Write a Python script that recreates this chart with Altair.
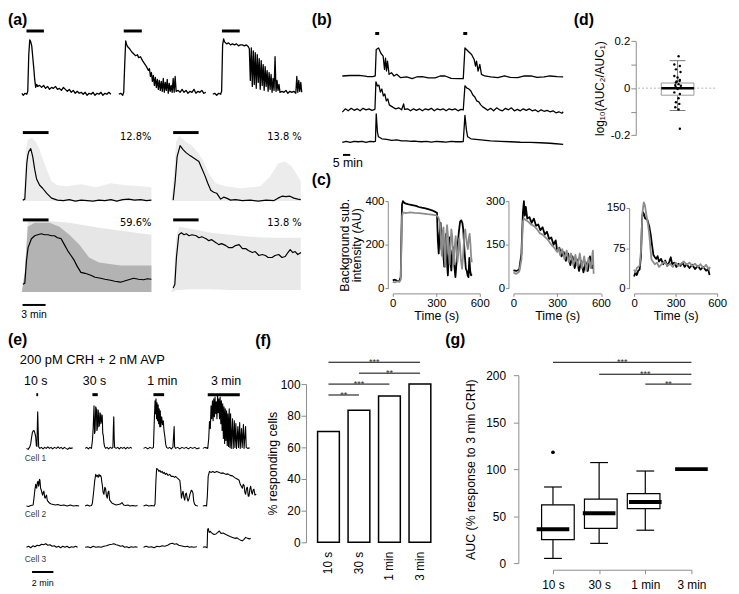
import altair as alt
import pandas as pd

W, H = 731, 586          # whole chart = page 739x594 minus the 8px margin
OFF = 8                  # reference pixel -> chart pixel
FONT = "Liberation Sans"

# ======================= DATA =======================
# (a) three example cells (frame, dF a.u.)
A1 = [(0,1),(1.5,-1),(3,1),(5,0),(6,3),(7,40),(8,55),(9,53),(10,49),(11,38),(12,27),(13,15),(14,7),(15,10),(16,8),(18,9),(20,7),(22,9),(24,6),(26,8),(28,5),(30,7),(32,6),(34,8),(36,5),(38,6),(40,4),(42,7),(44,5),(46,3),(48,5),(50,2),(52,4),(54,1),(56,3),(58,1),(60,2),(62,0),(64,2),(66,-1),(68,1),(70,0),(72,2),(74,-1),(76,1),(78,0),(80,2),(82,-1),(84,1),(86,0),(88,2),(90,0)]
A2 = [(0,0),(2,1),(4,-1),(5,2),(6,30),(7,54),(8,50),(9,48),(11,46),(13,43),(15,41),(17,39),(19,40),(20,37),(22,38),(24,34),(26,31),(28,28),(30,24),(31,26),(32,18),(33,22),(34,13),(35,19),(36,9),(37,17),(38,7),(39,15),(40,5),(41,14),(42,4),(43,13),(44,3),(45,16),(46,2),(47,12),(48,4),(49,15),(50,1),(51,11),(52,3),(53,9),(54,2),(55,16),(56,2),(57,18),(58,3),(60,4),(62,2),(64,5),(66,2),(68,4),(70,1),(72,3),(74,2),(76,5),(78,1),(80,3),(82,2),(84,4),(86,1),(88,2)]
A3 = [(0,0),(2,1),(4,-1),(6,1),(8,0),(9,3),(10,50),(11,56),(12,53),(14,51),(16,52),(18,50),(20,51),(22,50),(24,51),(26,49),(28,50),(30,50),(32,49),(34,50),(36,48),(37,46),(38,14),(39,47),(40,8),(41,44),(42,10),(43,42),(44,6),(45,40),(46,12),(47,36),(48,5),(49,34),(50,9),(51,30),(52,4),(53,28),(54,8),(55,24),(56,3),(57,22),(58,5),(59,20),(60,2),(61,16),(62,4),(63,38),(64,3),(65,14),(66,4),(67,10),(68,2),(70,3),(72,2),(74,4),(76,1),(78,3),(80,2),(82,3),(84,1),(85,18),(86,2),(87,14),(88,3),(89,12),(90,2)]
A_STIM = [(4.7, 22.3), (5.0, 23.3), (9.3, 27.3)]

# (a) clusters: mean trace (frame, dF) and envelope of member traces (frame, lo, hi)
A4_MEAN = [(1,1),(3,2),(4,20),(5,38),(6,46),(7,50),(9,53),(11,45),(13,32),(15,22),(18,16),(21,13),(25,8),(30,3),(36,1),(42,0.5),(48,1.5),(54,0),(60,1),(66,0.5),(72,0),(78,1),(84,0.5),(90,1.5),(96,0),(102,1.5),(108,2),(114,1),(120,1.5),(126,0.5),(131,1)]
A4_ENV = [(0,0,0),(2,0,5),(4,0,50),(6,0,62),(10,0,64),(14,0,60),(18,0,52),(22,0,40),(26,0,30),(30,0,20),(36,0,16),(45,0,15),(60,0,17),(75,0,14),(90,0,18),(105,0,16),(120,0,15),(131,0,14)]
A5_MEAN = [(2,1),(4,20),(6,45),(9,56),(12,52),(15,49),(19,46),(22,44),(25,42),(28,40),(31,33),(34,26),(37,18),(40,11),(43,9),(46,8),(50,2),(53,4),(56,3),(60,1),(65,1.5),(72,0.5),(80,1),(88,0),(96,1),(104,0.5),(108,3),(112,5),(116,4.5),(120,5),(124,3),(128,2),(131,1.5)]
A5_ENV = [(0,0,0),(3,0,30),(5,0,60),(8,0,66),(15,0,60),(22,0,55),(28,0,48),(33,0,40),(38,0,28),(45,0,18),(55,0,15),(70,0,13),(90,0,15),(100,0,25),(108,0,38),(115,0,40),(122,0,35),(131,0,20)]
A6_MEAN = [(1,8),(3,9),(4.7,32),(6.3,45),(9.7,54),(13,57),(16,58),(19.7,59),(23,58),(26.3,58),(30,57),(33,57),(36,55),(39.7,54),(43,48),(46.3,42),(49.7,37),(53,32),(56,26),(59.7,20),(64,19),(69.7,17),(74,15),(79.7,14),(84,13),(89.7,12),(94,11),(99.7,10),(103,11),(106.3,12),(109.7,13),(113,14),(118,13),(123,12.5),(127,13.5),(131,13)]
A6_ENV_LIGHT = [(0,0,0),(3,0,20),(6,0,72),(28,0,72),(48,0,70),(78,0,65),(100,0,62),(131,0,58)]
A6_ENV_DARK = [(0,0,0),(3,0,20),(6,0,66),(13,0,70),(28,0,70),(38,0,66),(48,0,58),(58,0,48),(68,0,35),(78,0,30),(100,0,27),(131,0,27)]
A7_MEAN = [(2,4),(3.7,8),(5.3,35),(7.7,58),(10.3,60),(13,58),(15.3,59),(18,57),(21,58),(25.3,57),(28,55),(31,56),(35.3,54),(38,52),(41,53),(45.3,50),(48,48),(51,49),(55.3,47),(58,45),(62,45),(65,47),(68.7,48),(72,44),(75.3,44),(78,42),(82,40),(85,41),(88.7,37),(92,38),(95.3,37),(98,35),(102,35),(105,37),(108.7,38),(112,35),(115.3,36),(118,40),(120.3,43),(123,40),(125.3,41),(128,38),(131.3,40)]
A7_ENV = [(0,0,0),(2,0,5),(5,2,55),(8,2,66),(20,3,64),(40,3,60),(60,2,58),(80,2,56),(100,2,55),(131,2,55)]
A_PCT = ["12.8%", "13.8 %", "59.6%", "13.8 %"]
A_GRID_STIM = [(1, 27), (2, 27.7)]
A_SCALE = (0.7, 24, "3 min")

# (b) repeated stimulation, three cells (frame, dF)
B1 = [(0,0),(8,0.5),(17,0.7),(25,-0.5),(31,-0.7),(33.3,0),(34.3,26.7),(36.7,28.3),(39,23),(41.3,20),(42.7,6.7),(43.7,18),(44.7,5),(45.7,15),(47.3,1.7),(49.7,3.3),(52.3,0),(55,1.7),(59,-1.7),(65,-1),(70.7,-2.7),(75,-1),(80.7,-0.7),(87,-2),(94,-2),(99,0),(104,0),(110,-2.5),(117.3,-2.7),(122.3,-2.7),(124,28.3),(127.3,25),(130.7,21.7),(133.3,16.7),(134.7,10),(135.7,15),(137.3,5),(139,11.7),(140.7,1.7),(144,0),(150,-1),(157.3,-1.7),(164,0),(170,-1.5),(177.3,-1.7),(184,0),(190.7,0),(197,-1.5),(204,-1),(210,0),(217.3,-0.7),(223.3,-1)]
B2 = [(0,-2.3),(3,1),(6,-1),(9,1.5),(12,-0.5),(15,1),(18,-1),(21,1.5),(24,0),(27,1),(30,-0.5),(33,0.5),(34,28.3),(35.5,24),(37,25),(38.5,18),(40,21),(41.5,14),(43,16),(44.5,9),(46,11),(47.5,5),(49,4),(51,2.7),(54,1),(57,2),(60,0),(62,6),(63,0.5),(66,1),(69,-1),(72,1),(75,-0.5),(78,1),(81,-1),(84,1),(87,0),(90,1.5),(93,-1),(96,1),(99,0),(102,1),(105,-1),(108,1),(111,0),(114,1),(117,-1),(120,0.5),(122.3,0),(124,24.3),(126,22),(128,21),(130,19),(132,15),(134,13),(136,9),(138,8),(140,5),(142,3),(144,1.7),(147,-0.5),(150,1.5),(153,-1),(156,2),(159,0),(162,-1),(165,1.5),(168,0),(171,2),(174,-1),(177,0.5),(180,-1),(183,1),(186,-0.5),(189,1),(192,-1),(195,0),(198,-2),(201,0),(204,-1.5),(207,-0.5),(210,-2),(213,-1),(216,-3),(219,-2),(222,-3.5),(223.3,-2)]
B3 = [(0,-0.7),(4,0.5),(8,-0.5),(12,0.5),(16,0),(20,0.5),(24,-0.5),(28,0.5),(32,0),(33.5,0.5),(34.3,28.3),(35.5,10),(36.5,5),(40,3),(45,2.5),(50,1.5),(55,2),(60,1),(65,1),(70,0.5),(75,0.5),(80,0),(85,0.3),(90,-0.3),(95,0.3),(100,0),(105,-0.3),(110,0.3),(115,0),(120,0),(122.3,0.2),(124,26.7),(125.5,12),(126.7,5),(130,3),(135,2.5),(140,2),(145,1.5),(150,1),(160,0.5),(170,0),(180,-0.5),(190,-0.7),(200,-1),(210,-1.5),(216,-2),(223.3,-2.7)]
B_STIM = [(33.3, 37.3), (122.3, 126.3)]
B_SCALE = (0.7, 8.0, "5 min")

# (c) first (black) and second (grey) response, time (s) vs intensity (AU)
C1_BLACK = [(0,37),(15,40),(30,35),(45,33),(55,52),(60,250),(64,385),(70,400),(80,392),(91,388),(110,385),(134,382),(160,378),(180,373),(200,370),(225,367),(250,362),(270,358),(290,352),(305,347),(311,220),(317,160),(323,250),(330,300),(336,180),(342,240),(348,160),(355,100),(362,220),(368,250),(374,120),(380,60),(386,150),(392,234),(398,120),(404,82),(410,170),(418,188),(425,100),(432,52),(440,120),(448,200),(456,260),(464,305),(472,312),(480,300),(486,270),(492,200),(498,140),(504,90),(510,82),(516,60),(522,52),(528,140),(534,80),(540,60),(545,65)]
C1_GREY = [(0,30),(15,28),(30,32),(45,30),(55,40),(60,200),(64,330),(70,348),(90,345),(120,348),(150,346),(180,345),(210,343),(240,340),(270,338),(300,335),(315,325),(325,300),(332,220),(338,150),(344,260),(350,280),(356,170),(362,100),(368,230),(374,290),(380,250),(386,170),(392,110),(398,200),(404,270),(410,240),(416,150),(422,110),(428,200),(434,240),(440,180),(446,120),(452,160),(458,230),(464,200),(470,130),(478,90),(486,160),(494,250),(500,270),(506,230),(512,200),(518,180),(524,230),(530,250),(536,200),(540,150),(545,120)]
C2_BLACK = [(0,62),(20,60),(40,65),(55,120),(65,260),(72,300),(78,250),(85,280),(95,240),(110,245),(125,225),(140,240),(155,215),(170,220),(185,200),(200,210),(215,185),(230,195),(245,170),(260,175),(275,150),(290,165),(300,130),(315,140),(330,110),(345,125),(360,95),(375,120),(390,80),(405,110),(420,70),(435,100),(450,60),(465,95),(480,55),(495,90),(510,60),(525,110),(540,70),(548,80)]
C2_GREY = [(0,55),(20,50),(40,58),(55,100),(65,230),(72,240),(85,235),(100,230),(120,220),(140,215),(160,205),(180,190),(200,185),(220,175),(240,165),(260,150),(280,140),(300,125),(310,140),(320,115),(335,135),(350,100),(365,130),(380,90),(395,120),(410,80),(425,115),(440,75),(455,120),(470,70),(485,110),(500,60),(515,105),(530,70),(545,130),(550,50)]
C3_BLACK = [(0,22),(10,30),(20,25),(30,33),(40,35),(50,60),(58,130),(64,142),(72,138),(80,130),(95,128),(110,115),(120,100),(130,80),(140,62),(150,58),(160,55),(170,60),(180,50),(195,55),(210,45),(225,52),(240,42),(255,50),(265,58),(275,45),(290,48),(305,40),(320,46),(335,42),(350,48),(365,40),(380,45),(400,38),(420,44),(440,36),(460,42),(480,35),(500,40),(520,33),(535,36),(545,25)]
C3_GREY = [(0,35),(10,30),(20,38),(30,40),(40,42),(50,70),(60,140),(70,160),(78,155),(90,135),(100,120),(110,100),(118,75),(125,55),(135,50),(150,45),(165,48),(180,40),(200,45),(220,50),(240,42),(260,46),(280,40),(300,48),(320,42),(340,46),(360,50),(380,44),(400,48),(420,42),(440,46),(460,40),(480,45),(500,38),(520,44),(540,35),(548,40)]
C_TOPS = [400, 300, 150]

# (d) log10(AUC2/AUC1): (jitter, value) and box statistics
D_PTS = [(1,0.136),(-3.3,0.101),(2.3,0.094),(-1.7,0.080),(3,0.069),(-3.3,0.052),(0,0.045),(2.3,0.035),(-1,0.028),(2,0.030),(-1.7,0.024),(1,0.017),(-2.3,0.013),(3.3,0.010),(-2,0.005),(0,-0.004),(-3.3,-0.018),(2.3,-0.025),(1,-0.043),(-1.7,-0.060),(1.7,-0.067),(-2.3,-0.081),(1,-0.091),(2.3,-0.173)]
D_BOX = {"lo": -0.095, "q1": -0.03, "med": 0.0, "q3": 0.022, "hi": 0.117}

# (e) pulse-duration traces: cell x recording, (time min, dF)
E1S1 = [(0,0),(0.15,-1),(0.31,1.5),(0.4,5),(0.46,10),(0.55,16),(0.62,17.5),(0.7,18),(0.77,16),(0.86,12),(0.92,3),(0.98,2),(1.02,25),(1.05,37),(1.09,20),(1.14,1.5),(1.25,0),(1.39,1),(1.55,-0.5),(1.7,1),(1.85,0),(2.0,1.5),(2.15,0),(2.3,1),(2.45,-0.5),(2.62,1),(2.8,0),(2.95,1.5),(3.1,0),(3.24,1),(3.4,-0.5),(3.55,1),(3.7,0),(3.86,-1),(4.0,0.5),(4.15,0),(4.32,0.5)]
E1S2 = [(0,0),(0.15,1),(0.3,-0.5),(0.45,1),(0.59,0),(0.68,8),(0.75,20),(0.83,43),(0.88,15),(0.93,17),(0.99,42),(1.05,40),(1.1,18),(1.14,20),(1.19,39),(1.23,38),(1.28,22),(1.33,23),(1.38,36),(1.42,35),(1.47,25),(1.51,27),(1.56,34),(1.6,33),(1.65,15),(1.7,13),(1.76,5),(1.82,2),(1.91,0),(2.05,1),(2.2,-0.5),(2.35,1),(2.5,0),(2.6,1),(2.64,20),(2.68,32),(2.72,10),(2.76,1),(2.9,0),(3.05,1),(3.2,-0.5),(3.35,1),(3.5,0),(3.65,1),(3.8,-0.5),(3.95,1),(4.1,0),(4.25,1),(4.38,0)]
E1S3 = [(0,0),(0.2,1),(0.4,-0.5),(0.6,1),(0.8,0),(0.93,1),(1.0,25),(1.08,48),(1.13,35),(1.17,50),(1.22,30),(1.27,46),(1.32,28),(1.37,44),(1.42,25),(1.47,40),(1.52,22),(1.57,38),(1.62,22),(1.7,32),(1.78,24),(1.85,28),(1.92,18),(2.0,12),(2.08,4),(2.16,1),(2.3,0),(2.45,1),(2.6,-0.5),(2.75,1),(2.83,15),(2.87,22),(2.91,2),(3.0,0),(3.2,1),(3.4,-0.5),(3.6,1),(3.8,0),(4.0,1),(4.2,-0.5),(4.4,1),(4.6,0),(4.8,1),(5.0,-0.5),(5.25,0.5)]
E1S4 = [(0,0),(0.2,1),(0.46,0),(0.55,10),(0.62,27),(0.7,20),(0.77,43),(0.83,30),(0.9,48),(0.96,28),(1.02,50),(1.08,32),(1.14,52),(1.2,35),(1.26,47),(1.32,30),(1.38,53),(1.44,36),(1.5,50),(1.56,30),(1.62,52),(1.68,25),(1.74,48),(1.8,18),(1.86,45),(1.92,10),(1.98,42),(2.04,5),(2.1,40),(2.16,8),(2.22,38),(2.28,3),(2.34,35),(2.4,2),(2.47,40),(2.53,1),(2.6,35),(2.66,0),(2.78,30),(2.84,0),(2.95,28),(3.0,1),(3.09,25),(3.15,0),(3.28,22),(3.34,1),(3.45,26),(3.5,0),(3.62,20),(3.68,1),(3.8,24),(3.86,0),(4.0,22),(4.06,1),(4.2,0),(4.38,0.5)]
E2S1 = [(0,0),(0.2,-0.5),(0.4,0.5),(0.62,1),(0.7,8),(0.77,15),(0.86,22),(0.95,18),(1.02,24),(1.08,25),(1.13,20),(1.17,22),(1.22,27),(1.26,26),(1.32,18),(1.39,16),(1.45,13),(1.51,11),(1.57,14),(1.63,15),(1.7,9),(1.76,8),(1.82,10),(1.88,11),(1.94,6),(2.0,5),(2.15,3),(2.31,2),(2.5,1.5),(2.7,1),(2.93,1.5),(3.2,0.5),(3.5,1),(3.8,0),(4.1,1),(4.4,0),(4.7,0.5),(4.93,0)]
E2S2 = [(0,0),(0.2,1),(0.4,0),(0.6,0.5),(0.68,3),(0.8,15),(0.9,26),(0.99,32),(1.07,30),(1.14,31),(1.22,29),(1.3,32),(1.38,30),(1.45,31),(1.51,29),(1.56,24),(1.6,22),(1.68,14),(1.76,12),(1.84,19),(1.91,18),(2.0,10),(2.07,8),(2.15,14),(2.22,15),(2.3,6),(2.38,5),(2.5,3),(2.68,2),(2.9,1),(3.1,1.5),(3.3,2),(3.45,3.5),(3.6,1),(3.8,0.5),(4.0,1),(4.2,0),(4.45,0.5),(4.7,0),(4.9,0.5)]
E2S3 = [(0,0),(0.25,1),(0.5,0),(0.75,0.5),(1.0,0),(1.08,2),(1.16,25),(1.23,38),(1.35,37),(1.45,35),(1.54,36),(1.65,34),(1.75,35),(1.85,33),(1.95,34),(2.05,32),(2.16,33),(2.3,31),(2.45,32),(2.6,30),(2.78,30),(2.9,29),(3.0,30),(3.09,29),(3.2,28),(3.3,27),(3.4,26),(3.48,18),(3.55,8),(3.62,12),(3.7,15),(3.78,9),(3.86,6),(3.93,12),(4.01,13),(4.09,8),(4.17,5),(4.25,7),(4.35,12),(4.48,16),(4.56,15),(4.63,13),(4.7,5),(4.78,2),(4.9,0.5),(5.09,0)]
E2S4 = [(0,0),(0.2,0.5),(0.35,0),(0.42,10),(0.5,30),(0.62,35),(0.75,34),(0.93,35),(1.1,34),(1.3,35),(1.54,34),(1.7,33),(1.9,33.5),(2.16,32),(2.35,32.5),(2.55,31),(2.78,30.5),(2.95,29),(3.09,28),(3.25,27),(3.4,26),(3.5,22),(3.6,20),(3.7,18),(3.78,22),(3.86,21),(3.93,14),(4.01,12),(4.09,18),(4.17,19),(4.25,10),(4.32,10),(4.4,17),(4.48,20),(4.56,14),(4.63,12),(4.7,16),(4.78,17),(4.88,11),(5.0,12)]
E3S1 = [(0,0),(0.2,1),(0.4,-0.5),(0.6,1.5),(0.8,0.5),(1.0,2),(1.2,1.5),(1.4,3),(1.6,2.5),(1.8,3.5),(2.0,2),(2.2,2.5),(2.4,1),(2.6,1.5),(2.8,0),(3.0,1),(3.2,-0.5),(3.4,1),(3.6,0),(3.8,1),(4.0,-0.5),(4.2,0.5),(4.4,0),(4.6,1),(4.78,0)]
E3S2 = [(0,0),(0.25,0.5),(0.5,-0.5),(0.75,1),(1.0,0),(1.25,0.5),(1.5,0),(1.75,1),(2.0,1.5),(2.25,2.5),(2.5,3),(2.7,3.5),(2.9,2.5),(3.1,2),(3.3,1),(3.5,1.5),(3.7,0),(3.9,0.5),(4.1,-0.5),(4.3,0.5),(4.5,0),(4.7,0.5),(4.9,0)]
E3S3 = [(0,0),(0.25,1),(0.5,0),(0.75,0.5),(1.0,-0.5),(1.25,1),(1.5,0.5),(1.75,1.5),(2.0,1),(2.25,2),(2.5,3.5),(2.7,4),(2.9,3),(3.1,3.5),(3.3,2),(3.5,1.5),(3.7,1),(3.9,0.5),(4.1,1),(4.3,0),(4.5,0.5),(4.7,0),(5.0,0.5)]
E3S4 = [(0,0),(0.2,0.5),(0.4,-0.5),(0.45,18),(0.5,19),(0.6,15),(0.7,16),(0.77,15),(0.9,14),(1.05,13),(1.23,13.5),(1.4,15),(1.54,16.5),(1.7,14),(1.9,14.5),(2.16,13),(2.35,12),(2.55,11),(2.78,10),(3.0,9),(3.2,9.5),(3.4,8),(3.55,7),(3.7,6.5),(3.85,8),(4.01,10),(4.2,9),(4.35,8.5),(4.48,9)]
E_STIM = [(0.92, 1.09), (0.68, 1.18), (0.93, 1.93), (0.46, 3.46)]
E_DUR = ["10 s", "30 s", "1 min", "3 min"]
E_CELLS = ["Cell 1", "Cell 2", "Cell 3"]
E_HEAD = "200 pM CRH + 2 nM AVP"
E_SCALE = (0.52, 2.52, "2 min")

# (f) % responding cells
F_LABELS = ["10 s", "30 s", "1 min", "3 min"]
F_VALUES = [70, 83.5, 92.5, 100]
F_SIG = [(0, 3, 113.8, "***"), (1, 3, 106.9, "**"), (0, 2, 100.0, "***"), (0, 1, 93.1, "**")]

# (g) AUC (% of 3 min response) box statistics
G_LABELS = ["10 s", "30 s", "1 min", "3 min"]
G_LO = [5, 21, 35, 100]
G_Q1 = [25, 37, 58, 100]
G_MED = [36, 53, 65, 100]
G_Q3 = [62, 68, 74, 100]
G_HI = [81, 107, 98, 100]
G_OUT = [(0, 118)]
G_SIG = [(0, 3, 213.7, "***"), (1, 3, 201.0, "***"), (2, 3, 190.5, "**")]

PANELS = ["(a)", "(b)", "(c)", "(d)", "(e)", "(f)", "(g)"]

# ======================= HELPERS =======================
def P(v):
    return v - OFF


def sc(dom, r0, r1, **kw):
    return alt.Scale(domain=dom, range=[P(r0), P(r1)], nice=False, zero=False, **kw)


def ax(orient, pos, **kw):
    off = (P(pos) - H) if orient == "bottom" else -P(pos)
    d = dict(orient=orient, offset=off, grid=False, domainColor="#8c8c8c",
             tickColor="#8c8c8c", domainWidth=1, tickWidth=1, labelColor="black",
             titleColor="black", labelFont=FONT, titleFont=FONT,
             titleFontWeight="normal", labelFlush=False, labelOverlap=False,
             tickSize=4, labelPadding=2, labelFontSize=11.5, titleFontSize=12.5)
    d.update(kw)
    return alt.Axis(**d)


def line(pairs, xs, ys, color="black", width=1.2, xaxis=None, yaxis=None):
    df = pd.DataFrame(pairs, columns=["t", "v"])
    return alt.Chart(df).mark_line(color=color, strokeWidth=width, strokeJoin="round").encode(
        x=alt.X("t:Q", scale=xs, axis=xaxis),
        y=alt.Y("v:Q", scale=ys, axis=yaxis),
    )


def env(rows, xs, ys, color):
    df = pd.DataFrame(rows, columns=["t", "lo", "hi"])
    return alt.Chart(df).mark_area(color=color, opacity=1).encode(
        x=alt.X("t:Q", scale=xs, axis=None),
        y=alt.Y("hi:Q", scale=ys, axis=None),
        y2="lo:Q",
    )


def hbar(rows, level, xs, ys, width=3):
    df = pd.DataFrame(rows, columns=["t0", "t1"])
    df["v"] = level
    return alt.Chart(df).mark_rule(color="black", strokeWidth=width).encode(
        x=alt.X("t0:Q", scale=xs, axis=None), x2="t1:Q",
        y=alt.Y("v:Q", scale=ys, axis=None),
    )


def text(rows, xs, ys, size=11, align="left", color="black", font=FONT, baseline="middle", dy=0):
    df = pd.DataFrame(rows, columns=["t", "v", "label"])
    return alt.Chart(df).mark_text(align=align, baseline=baseline, fontSize=size, font=font,
                                   color=color, dy=dy).encode(
        x=alt.X("t:Q", scale=xs, axis=None),
        y=alt.Y("v:Q", scale=ys, axis=None),
        text="label:N",
    )


def htick(df, xfield, yfield, xs, ys, size, thickness, color, xaxis=None, yaxis=None):
    return alt.Chart(df).mark_tick(orient="horizontal", size=size, thickness=thickness,
                                   color=color, opacity=1).encode(
        x=alt.X(f"{xfield}:Q", scale=xs, axis=xaxis),
        y=alt.Y(f"{yfield}:Q", scale=ys, axis=yaxis))


layers = []

# ======================= (a) =======================
ya_top = sc([0, 80], 92, 12)
for pairs, (x0, x1), st in zip([A1, A2, A3], [(22, 112), (120, 208), (215, 305)], A_STIM):
    xs = sc([0, x1 - x0], x0, x1)
    layers.append(line(pairs, xs, ya_top, width=1.3))
    layers.append(hbar([st], 64, xs, ya_top))

xl = sc([0, 131], 22, 153)
xr = sc([0, 132], 173, 305)
y_r1 = sc([0, 70], 200, 130)
y_r2 = sc([0, 73], 292, 219)

layers.append(env(A4_ENV, xl, y_r1, "#ececec"))
layers.append(line(A4_MEAN, xl, y_r1))
layers.append(hbar([A_GRID_STIM[0]], 69.3, xl, y_r1))
layers.append(text([(131, 65, A_PCT[0])], xl, y_r1, size=10, align="right", font="DejaVu Sans"))

layers.append(env(A5_ENV, xr, y_r1, "#ececec"))
layers.append(line(A5_MEAN, xr, y_r1))
layers.append(hbar([A_GRID_STIM[1]], 69.3, xr, y_r1))
layers.append(text([(132, 65, A_PCT[1])], xr, y_r1, size=10, align="right", font="DejaVu Sans"))

layers.append(env(A6_ENV_LIGHT, xl, y_r2, "#e6e6e6"))
layers.append(env(A6_ENV_DARK, xl, y_r2, "#b3b3b3"))
layers.append(line(A6_MEAN, xl, y_r2))
layers.append(hbar([A_GRID_STIM[0]], 73, xl, y_r2))
layers.append(text([(131, 70, A_PCT[2])], xl, y_r2, size=10, align="right", font="DejaVu Sans"))
layers.append(hbar([A_SCALE[:2]], -13, xl, y_r2, width=2))
layers.append(text([((A_SCALE[0] + A_SCALE[1]) / 2, -23.5, A_SCALE[2])], xl, y_r2, size=10.5, align="center"))

layers.append(env(A7_ENV, xr, y_r2, "#e9e9e9"))
layers.append(line(A7_MEAN, xr, y_r2))
layers.append(hbar([A_GRID_STIM[1]], 73, xr, y_r2))
layers.append(text([(132, 70, A_PCT[3])], xr, y_r2, size=10, align="right", font="DejaVu Sans"))

# ======================= (b) =======================
xb = sc([0, 224], 346, 570)
yb = [sc([0, 50], 73.5, 23.5), sc([0, 50], 107.7, 57.7), sc([0, 50], 140, 90)]
for pairs, ys in zip([B1, B2, B3], yb):
    layers.append(line(pairs, xb, ys, width=1.3))
layers.append(hbar(B_STIM, 43, xb, yb[0]))
layers.append(hbar([B_SCALE[:2]], -13.3, xb, yb[2], width=2))
layers.append(text([(5.5, -22, B_SCALE[2])], xb, yb[2], size=12.5, align="center"))

# ======================= (c) =======================
C_LAYOUT = [(397, 485, 392, 200.0), (519, 607.5, 514, 200.0), (641, 725, 636, 206.7)]
C_DATA = [(C1_BLACK, C1_GREY), (C2_BLACK, C2_GREY), (C3_BLACK, C3_GREY)]
for k, ((x0, x1, yax, ytop), (blk, gry), top) in enumerate(zip(C_LAYOUT, C_DATA, C_TOPS)):
    xs = sc([0, 600], x0, x1)
    ys = sc([0, top], 288.3, ytop)
    ytitle = ["Background sub.", "intensity (AU)"] if k == 0 else None
    yaxis = ax("left", yax, values=[0, top // 2, top], title=ytitle, tickSize=3,
               labelPadding=1, titlePadding=1, titleLineHeight=13)
    xaxis = ax("bottom", 293.3, values=[0, 300, 600], title="Time (s)", tickSize=3,
               labelPadding=1, titlePadding=1)
    layers.append(line(blk, xs, ys, color="black", width=1.8, xaxis=xaxis, yaxis=yaxis))
    layers.append(line(gry, xs, ys, color="#8c8c8c", width=1.8))

# ======================= (d) =======================
xd = sc([-40, 40], 645, 725)
yd = sc([-0.2, 0.2], 133.3, 38.3)
zero_df = pd.DataFrame({"x0": [-40], "x1": [40], "v": [0.0]})
layers.append(alt.Chart(zero_df).mark_rule(color="#a0a0a0", strokeWidth=0.8, strokeDash=[2, 2]).encode(
    x=alt.X("x0:Q", scale=xd, axis=None), x2="x1:Q", y=alt.Y("v:Q", scale=yd, axis=None)))
dbox = pd.DataFrame([dict(pos=0, **D_BOX)])
layers.append(alt.Chart(dbox).mark_rule(color="#777777", strokeWidth=1).encode(
    x=alt.X("pos:Q", scale=xd, axis=None), y=alt.Y("q3:Q", scale=yd, axis=None), y2="hi:Q"))
layers.append(alt.Chart(dbox).mark_rule(color="#777777", strokeWidth=1).encode(
    x=alt.X("pos:Q", scale=xd, axis=None), y=alt.Y("lo:Q", scale=yd, axis=None), y2="q1:Q"))
for fld in ["hi", "lo"]:
    layers.append(htick(dbox, "pos", fld, xd, yd, 16, 1, "#777777"))
layers.append(alt.Chart(dbox).mark_bar(size=33, fill="white", stroke="#999999", strokeWidth=1).encode(
    x=alt.X("pos:Q", scale=xd, axis=None), y=alt.Y("q1:Q", scale=yd, axis=None), y2="q3:Q"))
layers.append(htick(dbox, "pos", "med", xd, yd, 33, 2.5, "black"))
d_label = "datum.value == 0.2 ? '0.2' : (datum.value == 0 ? '0' : (datum.value == -0.2 ? '-0.2' : ''))"
layers.append(alt.Chart(pd.DataFrame(D_PTS, columns=["j", "v"])).mark_circle(size=6, color="black", opacity=1).encode(
    x=alt.X("j:Q", scale=xd, axis=None),
    y=alt.Y("v:Q", scale=yd, axis=ax("left", 642.7, values=[-0.2, -0.1, 0, 0.1, 0.2], labelExpr=d_label,
                                     title="log₁₀(AUC₂/AUC₁)", titleFontSize=12, tickSize=5,
                                     labelPadding=1, titlePadding=4))))

# ======================= (e) =======================
E_SEG_X0 = [26.7, 86.0, 145.0, 205.0]
E_BASE = [450.0, 508.3, 550.0]
E_PPM = 10.8
E_TRACES = [[E1S1, E1S2, E1S3, E1S4], [E2S1, E2S2, E2S3, E2S4], [E3S1, E3S2, E3S3, E3S4]]
ex = [sc([0, 6], x0, x0 + 6 * E_PPM) for x0 in E_SEG_X0]
ey = [sc([0, 60], b, b - 60) for b in E_BASE]
for ci in range(3):
    for si in range(4):
        layers.append(line(E_TRACES[ci][si], ex[si], ey[ci], width=1.1))
E_LABEL_X = [36, 95.5, 164, 228.5]
for si in range(4):
    layers.append(hbar([E_STIM[si]], 54.3, ex[si], ey[0]))
    layers.append(text([((E_LABEL_X[si] - E_SEG_X0[si]) / E_PPM, 68.3, E_DUR[si])], ex[si], ey[0],
                       size=12.5, align="center"))
layers.append(text([((20 - E_SEG_X0[0]) / E_PPM, 89, E_HEAD)], ex[0], ey[0], size=13))
E_CELL_Y = [460, 516.5, 561.7]
for ci in range(3):
    layers.append(text([((25 - E_SEG_X0[0]) / E_PPM, E_BASE[ci] - E_CELL_Y[ci], E_CELLS[ci])],
                       ex[0], ey[ci], size=8.5, color="#3a3a3a"))
layers.append(hbar([E_SCALE[:2]], -25, ex[0], ey[2], width=2))
layers.append(text([((E_SCALE[0] + E_SCALE[1]) / 2, -35.7, E_SCALE[2])], ex[0], ey[2], size=9, align="center"))

# ======================= (f) =======================
xf = alt.Scale(domain=F_LABELS, range=[P(316.6), P(439.9)], paddingInner=0.286, paddingOuter=0.143)
yf = sc([0, 100], 545, 385)
fdf = pd.DataFrame({"cond": F_LABELS, "v": F_VALUES})
layers.append(alt.Chart(fdf).mark_bar(fill="white", stroke="black", strokeWidth=1.5).encode(
    x=alt.X("cond:N", scale=xf, sort=None,
            axis=ax("bottom", 551, labelAngle=270, ticks=False, tickSize=0, domain=False,
                    labelPadding=3, title=None, labelFontSize=12)),
    y=alt.Y("v:Q", scale=yf,
            axis=ax("left", 309.3, values=[0, 20, 40, 60, 80, 100], title="% responding cells",
                    labelFontSize=12, tickSize=5, labelPadding=1, titlePadding=1))))
xfi = sc([0, 3], 332, 424.5)
fsig = pd.DataFrame(F_SIG, columns=["i0", "i1", "v", "label"])
layers.append(alt.Chart(fsig).mark_rule(color="black", strokeWidth=1).encode(
    x=alt.X("i0:Q", scale=xfi, axis=None), x2="i1:Q", y=alt.Y("v:Q", scale=yf, axis=None)))
layers.append(alt.Chart(fsig).transform_calculate(m="(datum.i0 + datum.i1) / 2").mark_text(
    fontSize=9, font=FONT, color="#333333", baseline="alphabetic", dy=3).encode(
    x=alt.X("m:Q", scale=xfi, axis=None), y=alt.Y("v:Q", scale=yf, axis=None), text="label:N"))

# ======================= (g) =======================
xg = sc([0, 3], 559, 699)
yg = sc([0, 200], 566, 376)
gdf = pd.DataFrame({"i": list(range(len(G_LABELS))), "lo": G_LO, "q1": G_Q1, "med": G_MED,
                    "q3": G_Q3, "hi": G_HI})
gbox = gdf[gdf["q3"] > gdf["q1"]]
g_label = "[" + ",".join("'" + s + "'" for s in G_LABELS) + "][datum.value]"
layers.append(alt.Chart(gbox).mark_rule(color="black", strokeWidth=1.2).encode(
    x=alt.X("i:Q", scale=xg, axis=None), y=alt.Y("q3:Q", scale=yg, axis=None), y2="hi:Q"))
layers.append(alt.Chart(gbox).mark_rule(color="black", strokeWidth=1.2).encode(
    x=alt.X("i:Q", scale=xg, axis=None), y=alt.Y("lo:Q", scale=yg, axis=None), y2="q1:Q"))
for fld in ["hi", "lo"]:
    layers.append(htick(gbox, "i", fld, xg, yg, 18, 1.2, "black"))
layers.append(alt.Chart(gbox).mark_bar(size=33, fill="white", stroke="black", strokeWidth=1.2).encode(
    x=alt.X("i:Q", scale=xg, axis=None), y=alt.Y("q1:Q", scale=yg, axis=None), y2="q3:Q"))
layers.append(htick(gdf, "i", "med", xg, yg, 33, 4, "black",
                    xaxis=ax("bottom", 572.7, values=[0, 1, 2, 3], labelExpr=g_label, title=None,
                             labelFontSize=12, tickSize=4, labelPadding=6),
                    yaxis=ax("left", 524, values=[0, 50, 100, 150, 200],
                             title="AUC (% response to 3 min CRH)",
                             labelFontSize=12, tickSize=5, labelPadding=8, titlePadding=8)))
layers.append(alt.Chart(pd.DataFrame(G_OUT, columns=["i", "v"])).mark_circle(size=14, color="black", opacity=1).encode(
    x=alt.X("i:Q", scale=xg, axis=None), y=alt.Y("v:Q", scale=yg, axis=None)))
gsig = pd.DataFrame(G_SIG, columns=["i0", "i1", "v", "label"])
layers.append(alt.Chart(gsig).mark_rule(color="black", strokeWidth=1).encode(
    x=alt.X("i0:Q", scale=xg, axis=None), x2="i1:Q", y=alt.Y("v:Q", scale=yg, axis=None)))
layers.append(alt.Chart(gsig).transform_calculate(m="(datum.i0 + datum.i1) / 2").mark_text(
    fontSize=9, font=FONT, color="#333333", baseline="alphabetic", dy=3).encode(
    x=alt.X("m:Q", scale=xg, axis=None), y=alt.Y("v:Q", scale=yg, axis=None), text="label:N"))

# ======================= panel letters =======================
LETTER_POS = [(8, 17), (315, 17), (315, 179), (580, 17), (8, 340.5), (258, 341), (450, 340)]
for lab, (lx, ly) in zip(PANELS, LETTER_POS):
    layers.append(alt.Chart(pd.DataFrame({"label": [lab]})).mark_text(
        align="left", baseline="middle", fontSize=16, fontWeight="bold", font=FONT, color="black").encode(
        x=alt.value(P(lx)), y=alt.value(P(ly)), text="label:N"))

chart = alt.layer(*layers).resolve_scale(x="independent", y="independent").properties(
    width=W, height=H, autosize=alt.AutoSizeParams(type="none"), padding=0
).configure_view(stroke=None)

chart.save("out.html", embed_options={"renderer": "svg", "actions": False})
